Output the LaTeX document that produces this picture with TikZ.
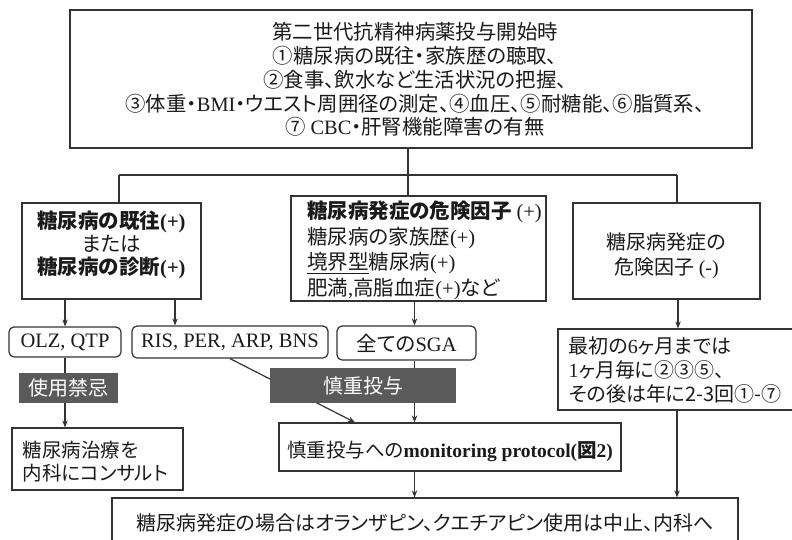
\documentclass[tikz,border=0pt]{standalone}
\usepackage{fontspec}
\setmainfont[RawFeature=+palt]{Noto Sans CJK JP}
\newfontfamily\tms{Liberation Serif}
\newcommand\tmr[1]{{\tms #1}}
\usetikzlibrary{arrows.meta}
\definecolor{linec}{HTML}{333333}
\definecolor{shadec}{HTML}{5A5A5A}
\definecolor{txtc}{HTML}{1A1A1A}
\begin{document}
\begin{tikzpicture}[x=1pt,y=-1pt,
  box/.style={draw=linec, line width=1.2pt, inner sep=0pt, rectangle, text=txtc},
  rbox/.style={box, rounded corners=5pt},
  boxtext/.style={inner sep=0pt, text=txtc},
  shadebox/.style={fill=shadec, text=white, inner sep=0pt},
  arr/.style={-{Stealth[length=7pt,width=5.5pt]}, draw=linec, line width=1.2pt},
  ln/.style={draw=linec, line width=1.2pt}]
\useasboundingbox (0,0) rectangle (792,539);
\clip (0,0) rectangle (792,539);

% boxes
\node[box, minimum width=682pt, minimum height=138pt] (top) at (411,79) {};
\node[boxtext, align=center, yshift=-0.5pt, xshift=4pt,
    font=\fontsize{20.4}{23.8}\selectfont] (topt) at (top)
  {第二世代抗精神病薬投与開始時\\
   ①糖尿病の既往・家族歴の聴取、\\
   ②食事、飲水など生活状況の把握、\\
   ③体重・\tmr{BMI}・ウエスト周囲径の測定、④血圧、⑤耐糖能、⑥脂質系、\\
   ⑦ \tmr{CBC}・肝腎機能障害の有無};

\node[box, minimum width=179pt, minimum height=96pt] (lb) at (111.5,251) {};
\node[boxtext, align=center, yshift=6pt,
    font=\fontsize{20.5}{23}\selectfont] (lbt) at (lb)
  {\textbf{糖尿病の既往{\tms\bfseries (+)}}\\
   または\\
   \textbf{糖尿病の診断{\tms\bfseries (+)}}};

\node[box, minimum width=255pt, minimum height=105pt] (mid) at (418.5,248.5) {};
\node[boxtext, align=left, yshift=-2pt, xshift=6pt,
    font=\fontsize{20.5}{25.5}\selectfont] (midt) at (mid)
  {\textbf{糖尿病発症の危険因子} \tmr{(+)}\\
   糖尿病の家族歴\tmr{(+)}\\
   \underline{境界型}糖尿病\tmr{(+)}\\
   肥満\tmr{,}高脂血症\tmr{(+)}など};

\node[box, minimum width=187pt, minimum height=96pt] (rb) at (666.5,251) {};
\node[boxtext, align=center, yshift=-4.5pt,
    font=\fontsize{20}{25}\selectfont] (rbt) at (rb)
  {糖尿病発症の\\危険因子 \tmr{(-)}};

\node[rbox, minimum width=112pt, minimum height=30pt,
  font=\tms\fontsize{20.5}{24}\selectfont] (olz) at (65,342) {OLZ, QTP};
\node[rbox, minimum width=196pt, minimum height=32pt,
  font=\tms\fontsize{20.5}{24}\selectfont] (ris) at (230,342) {RIS, PER, ARP, BNS};
\node[rbox, minimum width=139pt, minimum height=34pt,
  font=\fontsize{20.5}{24}\selectfont] (sga) at (406.5,343) {全ての\tmr{SGA}};

\node[box, minimum width=242pt, minimum height=81pt] (first) at (679,369.5) {};
\node[boxtext, align=left, xshift=-4pt,
    font=\fontsize{20}{24}\selectfont] (firstt) at (first)
  {最初の\tmr{6}ヶ月までは\\
   \tmr{1}ヶ月毎に②③⑤、\\
   その後は年に2-3回①-⑦};

\node[box, minimum width=171pt, minimum height=62pt] (cons) at (97.5,459) {};
\node[boxtext, align=left, yshift=-3pt, xshift=-2pt,
    font=\fontsize{19.5}{23}\selectfont] (const) at (cons)
  {糖尿病治療を\\内科にコンサルト};

\node[box, minimum width=342pt, minimum height=48pt] (mon) at (450,447) {};
\node[boxtext, yshift=-4pt,
    font=\fontsize{19.5}{24}\selectfont] (mont) at (mon)
  {慎重投与への{\tms\bfseries monitoring protocol(}\textbf{図}{\tms\bfseries 2)}};

\node[box, minimum width=626pt, minimum height=50pt,
  font=\fontsize{20}{24}\selectfont] (bot) at (425,523)
  {糖尿病発症の場合はオランザピン、クエチアピン使用は中止、内科へ};

% helper coordinates
\coordinate (bus) at (408,175);
\coordinate (busl) at (119,175);
\coordinate (busr) at (677,175);
\coordinate (xr) at (175,0);
\coordinate (xs) at (414.5,0);
\coordinate (xf) at (678,0);
\coordinate (xd) at (355,0);

% connectors
\draw[ln] (top.south -| bus) -- (bus);
\draw[ln] (busl) -- (busr);
\draw[ln] (busl) -- (lb.north -| busl);
\draw[ln] (bus) -- (mid.north -| bus);
\draw[ln] (busr) -- (rb.north -| busr);

\draw[arr] (lb.south -| olz) -- (olz.north);
\draw[arr] (lb.south -| xr) -- (ris.north -| xr);
\draw[arr] (mid.south -| xs) -- (sga.north -| xs);
\draw[arr] (rb.south -| xf) -- (first.north -| xf);

\draw[arr] (olz.south) -- (cons.north -| olz);
\draw[arr] (ris.south) -- (mon.north -| xd);
\draw[arr] (sga.south -| xs) -- (mon.north -| xs);
\draw[arr] (mon.south -| xs) -- (bot.north -| xs);
\draw[arr] (first.south -| busr) -- (bot.north -| busr);

% shaded labels on top of connectors
\node[shadebox, minimum width=99pt, minimum height=30pt,
  font=\fontsize{20}{24}\selectfont] (kinki) at (68.5,388) {使用禁忌};
\node[shadebox, minimum width=186pt, minimum height=35pt,
  font=\fontsize{20}{24}\selectfont] (shincho) at (363,385.5) {慎重投与};
\end{tikzpicture}
\end{document}
